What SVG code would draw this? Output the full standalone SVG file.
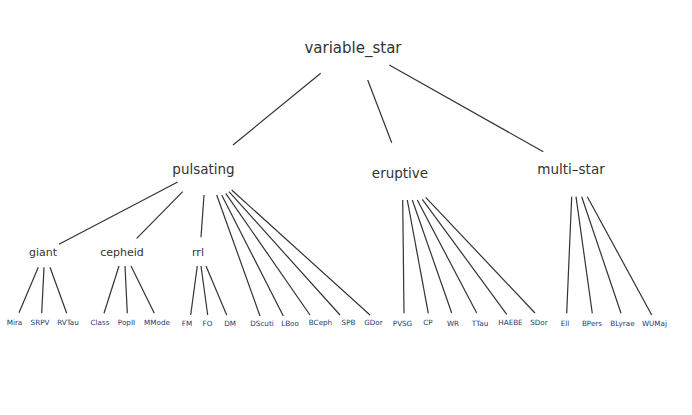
<svg xmlns="http://www.w3.org/2000/svg" width="692" height="415" viewBox="0 0 692 415">
<style>
.bg{fill:#ffffff}
.top{font-family:"DejaVu Sans","Liberation Sans",sans-serif;font-size:15px;fill:#333333;text-anchor:middle}
.mid{font-family:"DejaVu Sans","Liberation Sans",sans-serif;font-size:13.5px;fill:#333333;text-anchor:middle}
.sub{font-family:"DejaVu Sans","Liberation Sans",sans-serif;font-size:11px;fill:#333333;text-anchor:middle}
.leaf{font-family:"DejaVu Sans","Liberation Sans",sans-serif;font-size:7.2px;fill:#173a72;text-anchor:middle}
.edge{stroke:#333333;stroke-width:1.2;fill:none}
</style>
<rect class="bg" x="0" y="0" width="692" height="415"/>
<g id="connectors">
<line class="edge" x1="320.7" y1="73.3" x2="233" y2="145"/>
<line class="edge" x1="367.7" y1="80" x2="391.7" y2="142.7"/>
<line class="edge" x1="389.3" y1="65" x2="543.3" y2="151.7"/>
<line class="edge" x1="177.7" y1="182" x2="59" y2="244.3"/>
<line class="edge" x1="182.7" y1="191.7" x2="136.7" y2="238.3"/>
<line class="edge" x1="204" y1="195" x2="201" y2="237.3"/>
<line class="edge" x1="216.7" y1="195" x2="260" y2="316"/>
<line class="edge" x1="221.7" y1="195" x2="283.3" y2="316"/>
<line class="edge" x1="225.7" y1="193.3" x2="310" y2="315"/>
<line class="edge" x1="229" y1="191.7" x2="340" y2="315"/>
<line class="edge" x1="231.7" y1="190" x2="370" y2="315"/>
<line class="edge" x1="38.3" y1="267.3" x2="19" y2="312.7"/>
<line class="edge" x1="44" y1="267.3" x2="41.7" y2="313.3"/>
<line class="edge" x1="50" y1="267.3" x2="66.7" y2="313.3"/>
<line class="edge" x1="119" y1="266" x2="104" y2="313.3"/>
<line class="edge" x1="125" y1="266" x2="127.3" y2="313.3"/>
<line class="edge" x1="131" y1="266" x2="154.3" y2="313.3"/>
<line class="edge" x1="197.3" y1="266" x2="190.7" y2="315"/>
<line class="edge" x1="201" y1="266" x2="207.7" y2="315"/>
<line class="edge" x1="206" y1="266" x2="226.7" y2="315"/>
<line class="edge" x1="402.7" y1="200" x2="404" y2="313.3"/>
<line class="edge" x1="407.3" y1="200" x2="428.3" y2="313.3"/>
<line class="edge" x1="412.3" y1="200" x2="451.7" y2="313"/>
<line class="edge" x1="417.3" y1="200" x2="476.7" y2="313"/>
<line class="edge" x1="422.3" y1="199.3" x2="506.7" y2="314.3"/>
<line class="edge" x1="425.7" y1="197.3" x2="535" y2="313"/>
<line class="edge" x1="571.7" y1="196.7" x2="566.7" y2="313.3"/>
<line class="edge" x1="576" y1="196.7" x2="592.3" y2="313.3"/>
<line class="edge" x1="581.7" y1="196.7" x2="621" y2="313.3"/>
<line class="edge" x1="587.3" y1="196.7" x2="651.7" y2="315"/>
</g>
<g id="variable_star"><text class="top" x="353" y="52.5">variable_star</text></g>
<g id="pulsating"><text class="mid" x="203.5" y="174">pulsating</text></g>
<g id="eruptive"><text class="mid" x="400" y="178">eruptive</text></g>
<g id="multi-star"><text class="mid" x="571" y="174">multi–star</text></g>
<g id="giant"><text class="sub" x="43" y="256">giant</text></g>
<g id="cepheid"><text class="sub" x="122" y="256">cepheid</text></g>
<g id="rrl"><text class="sub" x="198" y="256">rrl</text></g>
<g id="Mira"><text class="leaf" x="14.5" y="324.5">Mira</text></g>
<g id="SRPV"><text class="leaf" x="40" y="324.5">SRPV</text></g>
<g id="RVTau"><text class="leaf" x="68" y="324.5">RVTau</text></g>
<g id="Class"><text class="leaf" x="100" y="324.5">Class</text></g>
<g id="PopII"><text class="leaf" x="126.5" y="325">PopII</text></g>
<g id="MMode"><text class="leaf" x="157" y="325">MMode</text></g>
<g id="FM"><text class="leaf" x="187" y="325.5">FM</text></g>
<g id="FO"><text class="leaf" x="207.5" y="325.5">FO</text></g>
<g id="DM"><text class="leaf" x="230" y="325.5">DM</text></g>
<g id="DScuti"><text class="leaf" x="262" y="325.5">DScuti</text></g>
<g id="LBoo"><text class="leaf" x="290" y="325.5">LBoo</text></g>
<g id="BCeph"><text class="leaf" x="320.5" y="325">BCeph</text></g>
<g id="SPB"><text class="leaf" x="348.5" y="325">SPB</text></g>
<g id="GDor"><text class="leaf" x="373.5" y="325">GDor</text></g>
<g id="PVSG"><text class="leaf" x="402.5" y="325.5">PVSG</text></g>
<g id="CP"><text class="leaf" x="428" y="325">CP</text></g>
<g id="WR"><text class="leaf" x="453" y="325.5">WR</text></g>
<g id="TTau"><text class="leaf" x="480" y="325.5">TTau</text></g>
<g id="HAEBE"><text class="leaf" x="510.5" y="325">HAEBE</text></g>
<g id="SDor"><text class="leaf" x="539" y="325">SDor</text></g>
<g id="Ell"><text class="leaf" x="565" y="325.5">Ell</text></g>
<g id="BPers"><text class="leaf" x="592" y="325.5">BPers</text></g>
<g id="BLyrae"><text class="leaf" x="622.5" y="325.5">BLyrae</text></g>
<g id="WUMaj"><text class="leaf" x="654.5" y="326">WUMaj</text></g>
</svg>
